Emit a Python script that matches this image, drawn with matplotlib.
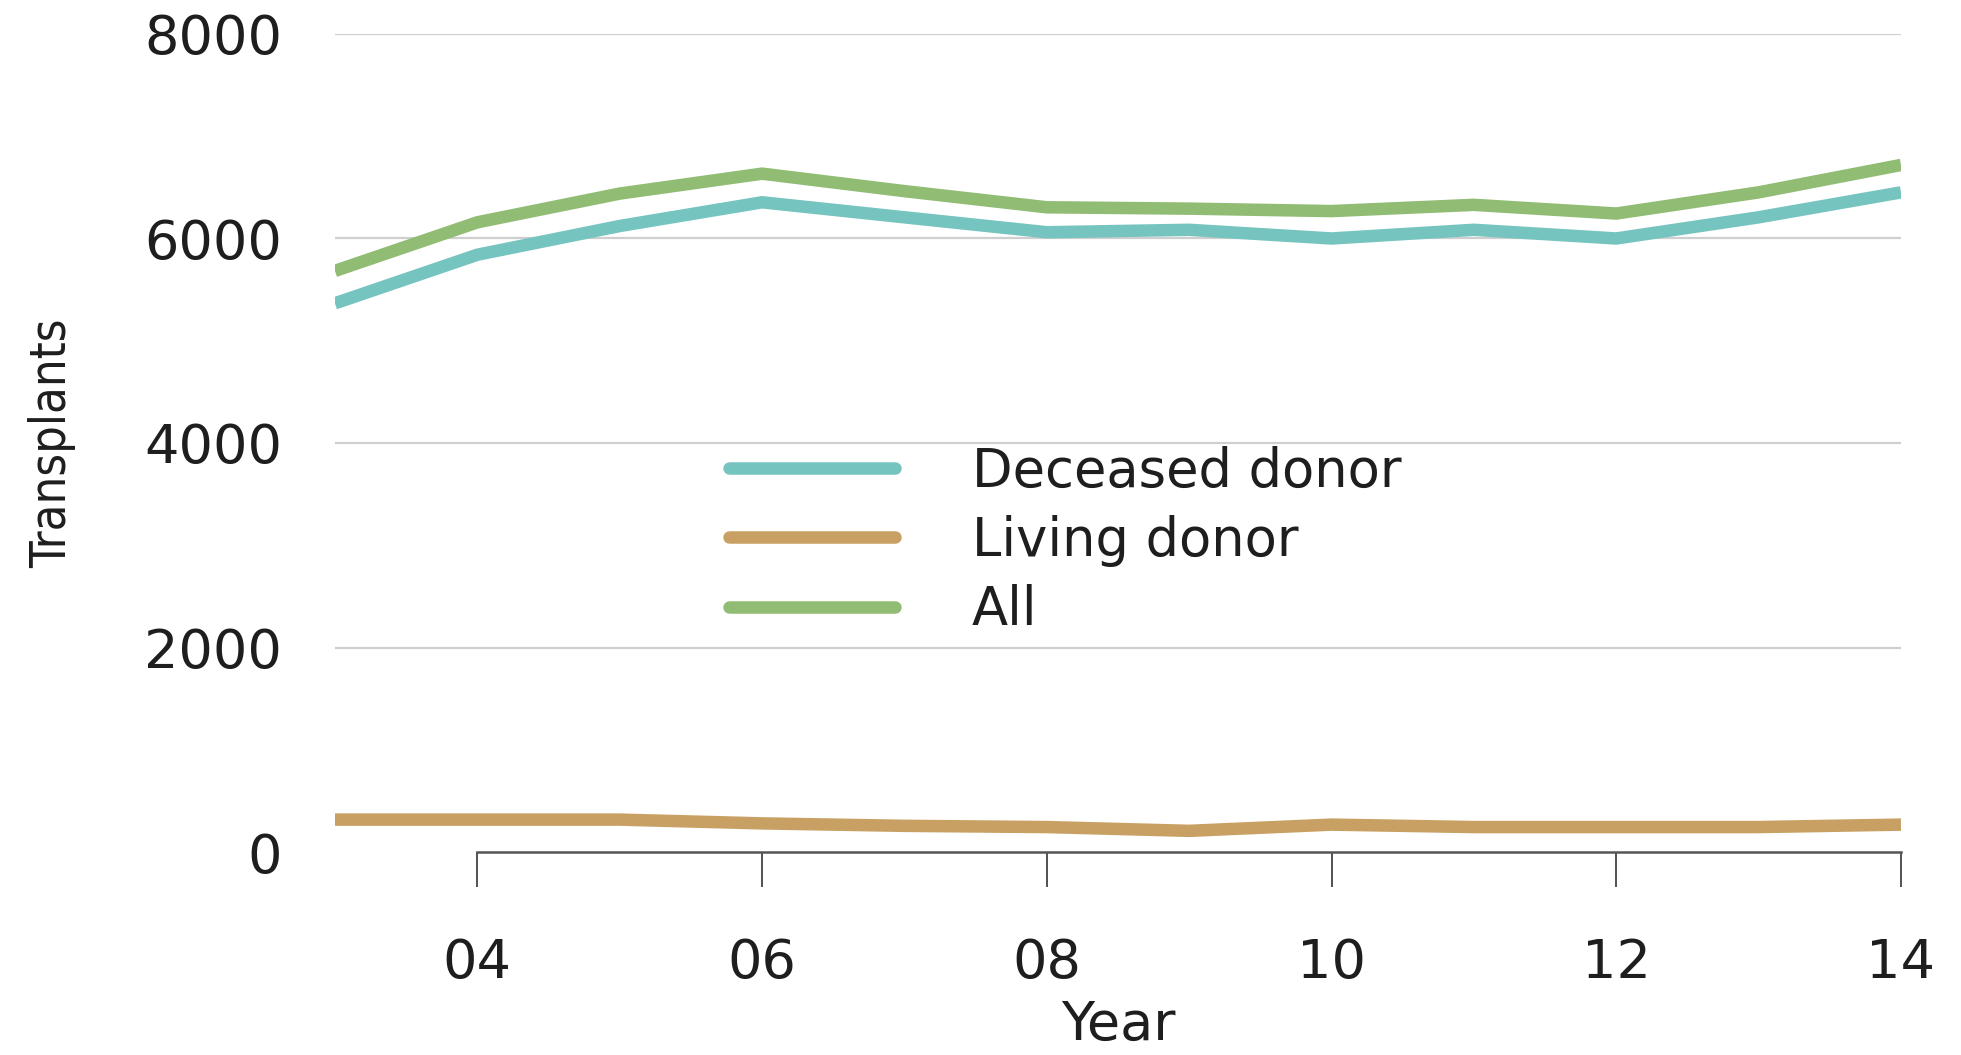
import matplotlib
matplotlib.use("Agg")
import matplotlib.pyplot as plt

# Kidney transplants per year by donor type
years = [2003, 2004, 2005, 2006, 2007, 2008, 2009, 2010, 2011, 2012, 2013, 2014]
deceased = [5366, 5841, 6122, 6354, 6207, 6061, 6085, 6000, 6085, 6000, 6207, 6451]
living = [317, 317, 317, 280, 256, 244, 207, 268, 244, 244, 244, 268]
all_donors = [5683, 6158, 6439, 6634, 6463, 6305, 6292, 6268, 6329, 6244, 6451, 6719]

series_labels = ["Deceased donor", "Living donor", "All"]
series_colors = ["#76c4bf", "#c9a063", "#90bc73"]

x_ticks = [2004, 2006, 2008, 2010, 2012, 2014]
x_tick_labels = ["04", "06", "08", "10", "12", "14"]
y_ticks = [0, 2000, 4000, 6000, 8000]

text_color = "#1e1e1e"
fs = 39

fig = plt.figure(figsize=(19.61, 10.55), dpi=100)
ax = fig.add_axes([0.1708, 0.1924, 0.7986, 0.7754])

for vals, lab, col in zip([deceased, living, all_donors], series_labels, series_colors):
    ax.plot(years, vals, color=col, lw=9, label=lab, solid_capstyle="butt",
            solid_joinstyle="miter", zorder=3)

ax.set_xlim(2003, 2014)
ax.set_ylim(0, 8000)

ax.set_yticks(y_ticks)
ax.set_yticklabels([str(v) for v in y_ticks])
ax.set_xticks(x_ticks)
ax.set_xticklabels(x_tick_labels)

# horizontal grid, no line at zero (the axis spine sits there)
ax.yaxis.grid(True, color="#cfcfcf", lw=1.6)
ax.get_ygridlines()[0].set_visible(False)
ax.set_axisbelow(True)

for side in ["top", "right", "left"]:
    ax.spines[side].set_visible(False)
ax.spines["bottom"].set_bounds(2004, 2014)
ax.spines["bottom"].set_color("#555555")
ax.spines["bottom"].set_linewidth(1.8)

ax.tick_params(axis="y", length=0, pad=38, labelsize=fs, labelcolor=text_color)
ax.tick_params(axis="x", direction="out", length=25, width=1.2, color="#333333",
               pad=36, labelsize=fs, labelcolor=text_color)

ax.set_ylabel("Transplants", family="DejaVu Sans", fontstretch="condensed",
              fontsize=35, color=text_color)
ax.yaxis.set_label_coords(-0.165, 0.5)
ax.set_xlabel("Year", fontsize=fs, color=text_color)
ax.xaxis.set_label_coords(0.5, -0.18)

leg = ax.legend(loc="upper left", bbox_to_anchor=(0.2516, 0.497), frameon=False,
                fontsize=38, handlelength=3.15, handletextpad=1.45, labelspacing=0.33,
                borderpad=0, borderaxespad=0)
for line in leg.get_lines():
    line.set_linewidth(9)
    line.set_solid_capstyle("round")
for t in leg.get_texts():
    t.set_color(text_color)

fig.savefig("out.png", dpi=100)
